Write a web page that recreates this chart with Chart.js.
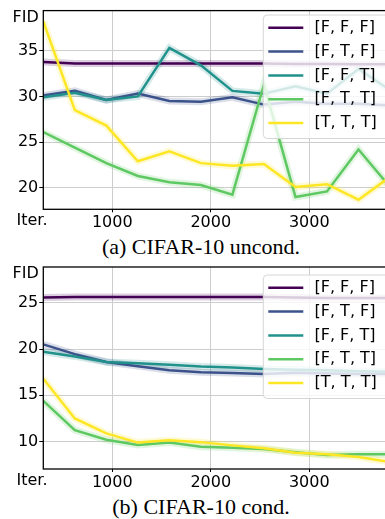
<!DOCTYPE html>
<html>
<head>
<meta charset="utf-8">
<script src="https://cdn.jsdelivr.net/npm/chart.js@4"></script>
<style>
  html, body { margin: 0; padding: 0; background: #fff; overflow: hidden; }
  body { width: 385px; height: 519px; position: relative; }
  .plot { position: absolute; left: 0; }
  .caption {
    position: absolute; left: 0; width: 402px; text-align: center;
    font-family: "Liberation Serif", "Times New Roman", serif;
    font-size: 22px; line-height: 22px; color: #000; white-space: nowrap;
  }
</style>
</head>
<body>
<div class="plot" style="top:0"><canvas id="uncond" width="400" height="232"></canvas></div>
<div class="caption" style="top:235.5px">(a) CIFAR-10 uncond.</div>
<div class="plot" style="top:255px"><canvas id="cond" width="400" height="232"></canvas></div>
<div class="caption" style="top:495.5px">(b) CIFAR-10 cond.</div>

<script>
// training iterations (x)
const iters = [300, 620, 940, 1260, 1580, 1900, 2220, 2540, 2860, 3180, 3500, 3820];
const labels = ["[F, F, F]", "[F, T, F]", "[F, F, T]", "[F, T, T]", "[T, T, T]"];
const colors = ["#440154", "#3b528b", "#21918c", "#5ec962", "#fde725"];
const xTicks = [1000, 2000, 3000];

// (a) CIFAR-10 unconditional FID
const fffUncond = [33.75, 33.6, 33.6, 33.6, 33.6, 33.6, 33.6, 33.6, 33.55, 33.55, 33.5, 33.5];
const ftfUncond = [30.1, 30.6, 29.6, 30.3, 29.5, 29.4, 29.9, 29.1, 29.4, 29.2, 29.2, 29.0];
const fftUncond = [29.9, 30.4, 29.6, 30.0, 35.3, 33.4, 30.6, 30.3, 31.1, 30.3, 33.0, 30.7];
const fttUncond = [26.1, 24.4, 22.7, 21.3, 20.6, 20.3, 19.25, 31.3, 19.0, 19.6, 24.2, 20.1];
const tttUncond = [38.2, 28.5, 26.8, 22.9, 24.0, 22.7, 22.4, 22.6, 20.1, 20.4, 18.7, 21.2];
const yTicksUncond = [20, 25, 30, 35];

// (b) CIFAR-10 conditional FID
const fffCond = [25.55, 25.6, 25.6, 25.6, 25.6, 25.6, 25.6, 25.6, 25.55, 25.5, 25.5, 25.5];
const ftfCond = [20.5, 19.45, 18.6, 18.15, 17.7, 17.5, 17.4, 17.3, 17.45, 17.35, 17.3, 17.3];
const fftCond = [19.7, 19.2, 18.6, 18.45, 18.3, 18.1, 18.0, 17.85, 17.75, 17.7, 17.6, 17.55];
const fttCond = [14.4, 11.25, 10.2, 9.65, 9.9, 9.45, 9.35, 9.2, 8.85, 8.55, 8.65, 8.65];
const tttCond = [16.8, 12.5, 10.9, 9.9, 10.15, 9.95, 9.6, 9.3, 8.8, 8.65, 8.35, 7.8];
const yTicksCond = [10, 15, 20, 25];

Chart.defaults.font.family = "'DejaVu Sans', sans-serif";
Chart.defaults.font.size = 16;
Chart.defaults.color = "#000";

function makeDatasets(series) {
  const out = [];
  series.forEach((vals, i) => {
    const pts = iters.map((x, k) => ({ x: x, y: vals[k] }));
    // main line, yellow ends up on top
    out.push({
      label: labels[i], data: pts, borderColor: colors[i], borderWidth: 2.5,
      pointRadius: 0, tension: 0, order: 5 - i
    });
    // faint halo like the std shading
    out.push({
      label: "", data: pts, borderColor: colors[i] + "30", borderWidth: 7,
      pointRadius: 0, tension: 0, order: 20 - i, halo: true
    });
  });
  return out;
}

function frame(legendTop) {
  return {
    id: "frame",
    afterDatasetsDraw(chart) {
      const ctx = chart.ctx;
      const a = chart.chartArea;
      ctx.save();
      // spines
      ctx.strokeStyle = "#000";
      ctx.lineWidth = 1.3;
      ctx.strokeRect(a.left, a.top, a.right - a.left, a.bottom - a.top);

      // axis names sitting in the tick label slots
      ctx.fillStyle = "#000";
      ctx.font = "16px 'DejaVu Sans'";
      ctx.textBaseline = "alphabetic";
      ctx.textAlign = "right";
      ctx.fillText("FID", a.left - 4.5, a.top + 11.2);
      ctx.textAlign = "center";
      ctx.fillText("Iter.", 32, a.bottom + 15.7);

      // legend box, white at 0.8 so lines behind show through
      const bx = 263.3, by = legendTop, bw = 150, bh = 123.5, r = 4;
      ctx.beginPath();
      ctx.moveTo(bx + r, by);
      ctx.lineTo(bx + bw - r, by);
      ctx.arcTo(bx + bw, by, bx + bw, by + r, r);
      ctx.lineTo(bx + bw, by + bh - r);
      ctx.arcTo(bx + bw, by + bh, bx + bw - r, by + bh, r);
      ctx.lineTo(bx + r, by + bh);
      ctx.arcTo(bx, by + bh, bx, by + bh - r, r);
      ctx.lineTo(bx, by + r);
      ctx.arcTo(bx, by, bx + r, by, r);
      ctx.closePath();
      ctx.fillStyle = "rgba(255,255,255,0.8)";
      ctx.fill();
      ctx.strokeStyle = "#d6d6d6";
      ctx.lineWidth = 1;
      ctx.stroke();

      const main = chart.data.datasets.filter(d => !d.halo);
      main.forEach((d, k) => {
        const cy = by + 12.8 + 23.8 * k;
        ctx.strokeStyle = d.borderColor;
        ctx.lineWidth = 2.5;
        ctx.beginPath();
        ctx.moveTo(268.3, cy);
        ctx.lineTo(303.3, cy);
        ctx.stroke();
        ctx.fillStyle = "#000";
        ctx.textAlign = "left";
        ctx.textBaseline = "middle";
        ctx.fillText(d.label, 314.5, cy);
      });
      ctx.restore();
    }
  };
}

function makeChart(id, series, yMin, yMax, yTicks, padTop, xHeight, legendTop) {
  return new Chart(document.getElementById(id), {
    type: "line",
    data: { datasets: makeDatasets(series) },
    options: {
      responsive: false,
      animation: false,
      devicePixelRatio: 1,
      layout: { padding: { left: 0, top: padTop, right: 10, bottom: 0 } },
      plugins: { legend: { display: false }, tooltip: { enabled: false } },
      scales: {
        x: {
          type: "linear", min: iters[0], max: iters[iters.length - 1],
          afterBuildTicks: s => { s.ticks = xTicks.map(v => ({ value: v })); },
          afterFit: s => { s.height = xHeight; },
          grid: { color: "#cdcdcd", lineWidth: 1, tickColor: "#000", tickLength: 3 },
          border: { display: false },
          ticks: { padding: 1, maxRotation: 0, callback: v => String(v) }
        },
        y: {
          min: yMin, max: yMax,
          afterBuildTicks: s => { s.ticks = yTicks.map(v => ({ value: v })); },
          afterFit: s => { s.width = 43.3; },
          grid: { color: "#cdcdcd", lineWidth: 1, tickColor: "#000", tickLength: 4 },
          border: { display: false },
          ticks: { padding: 1, callback: v => String(v) }
        }
      }
    },
    plugins: [frame(legendTop)]
  });
}

makeChart("uncond", [fffUncond, ftfUncond, fftUncond, fttUncond, tttUncond],
  17.65, 39.38, yTicksUncond, 6, 22.7, 15);
makeChart("cond", [fffCond, ftfCond, fftCond, fttCond, tttCond],
  7.05, 28.85, yTicksCond, 12, 18, 20);
</script>
</body>
</html>
